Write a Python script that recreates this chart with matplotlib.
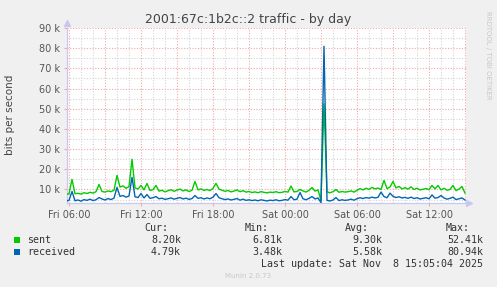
import numpy as np
import matplotlib
matplotlib.use("Agg")
import matplotlib.pyplot as plt
from matplotlib.patches import Rectangle

# data (kbit/s, one sample every 15 min)
title = "2001:67c:1b2c::2 traffic - by day"
start_hour = 5.75      # Fri 05:45, hours since Fri 00:00
step_hour = 0.25
sent = [7.6, 7.8, 15.0, 7.9, 8.1, 7.7, 8.4, 8.0, 8.6, 8.2, 8.9, 12.5, 9.0, 8.7, 9.3, 8.9, 9.6,
        17.0, 11.2, 11.8, 10.6, 11.4, 25.0, 10.8, 10.2, 12.0, 9.8, 13.0, 9.5, 9.9, 12.0, 9.2, 9.6, 8.8,
        9.4, 9.9, 9.1, 9.7, 10.2, 9.3, 9.8, 9.0, 9.6, 14.0, 9.8, 10.3, 9.5, 10.0, 9.4, 10.6, 13.0,
        10.2, 9.6, 9.1, 9.5, 8.8, 9.2, 9.8, 8.9, 9.4, 8.7, 9.0, 8.5, 8.8, 8.4, 8.9, 8.6, 8.3,
        8.7, 8.5, 8.9, 8.4, 8.6, 9.0, 8.7, 11.7, 8.8, 9.0, 10.0, 9.3, 8.7, 9.6, 11.0, 9.2, 9.8,
        4.5, 52.41, 8.8, 8.4, 8.9, 10.0, 8.6, 9.0, 8.7, 8.9, 9.3, 8.7, 9.6, 10.4, 9.8, 10.6, 10.1,
        11.0, 10.3, 10.7, 10.0, 14.5, 10.4, 11.2, 14.0, 10.8, 11.5, 10.3, 10.9, 10.2, 11.3, 10.0, 10.6, 9.8,
        10.1, 10.5, 9.9, 12.0, 10.3, 12.0, 9.8, 10.6, 9.6, 10.0, 12.0, 9.4, 10.2, 11.5, 8.2]
received = [4.3, 4.6, 9.0, 4.4, 4.8, 4.2, 5.0, 4.6, 5.2, 4.5, 4.9, 6.0, 5.3, 4.8, 5.5, 5.0, 5.7,
            11.0, 6.6, 7.0, 6.2, 6.8, 16.0, 6.4, 6.0, 8.0, 5.8, 7.5, 5.6, 5.9, 6.5, 5.4, 5.7, 5.1,
            5.4, 5.8, 5.2, 5.6, 6.0, 5.3, 5.7, 5.1, 5.5, 7.0, 5.6, 5.9, 5.3, 5.8, 5.4, 6.2, 8.0,
            5.9, 5.4, 5.0, 5.3, 4.8, 5.1, 5.5, 4.7, 5.2, 4.6, 4.9, 4.5, 4.8, 4.4, 4.9, 4.6, 4.3,
            4.7, 4.5, 4.9, 4.4, 4.6, 5.0, 4.7, 6.5, 4.9, 5.2, 8.5, 5.4, 4.9, 5.6, 6.5, 5.3, 5.8,
            3.5, 80.94, 4.6, 4.3, 4.8, 6.0, 4.5, 4.9, 4.6, 4.8, 5.2, 4.7, 5.4, 5.9, 5.5, 6.0, 5.7,
            6.2, 5.8, 6.1, 8.7, 6.5, 5.9, 8.2, 6.6, 6.0, 6.4, 5.8, 6.1, 5.6, 6.2, 5.5, 5.9, 5.3,
            5.6, 5.9, 5.4, 7.3, 5.7, 6.0, 7.0, 5.8, 5.2, 5.6, 6.2, 5.0, 5.4, 5.8, 4.79]

tick_hours = [6, 12, 18, 24, 30, 36]
tick_labels = ["Fri 06:00", "Fri 12:00", "Fri 18:00", "Sat 00:00", "Sat 06:00", "Sat 12:00"]
ytick_vals = [10000, 20000, 30000, 40000, 50000, 60000, 70000, 80000, 90000]
ytick_labels = ["10 k", "20 k", "30 k", "40 k", "50 k", "60 k", "70 k", "80 k", "90 k"]

legend_names = ["sent", "received"]
legend_colors = ["#00cc00", "#0066b3"]
cur_vals = ["8.20k", "4.79k"]
min_vals = ["6.81k", "3.48k"]
avg_vals = ["9.30k", "5.58k"]
max_vals = ["52.41k", "80.94k"]
last_update = "Last update: Sat Nov  8 15:05:04 2025"

W, H = 497, 287
def px(x, y):
    return x / W, 1 - y / H

fig = plt.figure(figsize=(W / 100, H / 100), dpi=100, facecolor="#f0f0f0")
ax = fig.add_axes([67 / W, 1 - 203 / H, 399 / W, 175 / H])
ax.set_facecolor("white")

x0, x1 = 5.833, 39.083
y0, y1 = 3300, 90000

# grid
for h in np.arange(6, 40, 1):
    col = "#f0a8a8" if h % 3 == 0 else "#d4d4d4"
    ax.axvline(h, color=col, lw=0.8, ls=(0, (1, 1.5)), zorder=1)
for v in np.arange(5000, 90001, 5000):
    col = "#f0a8a8" if v % 10000 == 0 else "#d4d4d4"
    ax.axhline(v, color=col, lw=0.8, ls=(0, (1, 1.5)), zorder=1)

t = start_hour + step_hour * np.arange(len(sent))
ax.plot(t, np.array(sent) * 1000, color=legend_colors[0], lw=1.0, zorder=3)
ax.plot(t, np.array(received) * 1000, color=legend_colors[1], lw=1.0, zorder=4)

ax.set_xlim(x0, x1)
ax.set_ylim(y0, y1)
ax.set_xticks(tick_hours, tick_labels)
ax.set_yticks(ytick_vals, ytick_labels)
ax.tick_params(axis="both", length=2, width=0.8, color="#f0a8a8", labelsize=7,
               labelcolor="#555555", pad=3)

for s in ["top", "right"]:
    ax.spines[s].set_visible(False)
for s in ["left", "bottom"]:
    ax.spines[s].set_color("#c8c8f0")
    ax.spines[s].set_linewidth(0.9)

# axis arrows
ax.plot([1.0075], [0], marker=">", ms=4, color="#c8c8f0", transform=ax.transAxes, clip_on=False)
ax.plot([0], [1.03], marker="^", ms=4, color="#c8c8f0", transform=ax.transAxes, clip_on=False)

fig.text(*px(248, 20), title, ha="center", va="center", fontsize=9, color="#444444")
fig.text(*px(10, 115), "bits per second", ha="center", va="center", rotation=90,
         fontsize=7.5, color="#444444")
fig.text(*px(488, 55), "RRDTOOL / TOBI OETIKER", ha="center", va="center", rotation=270,
         fontsize=5, color="#c8c8c8")

mono = "DejaVu Sans Mono"
lsize = 7.2
lcol = "#333333"
cols_x = [181, 282, 382, 483]
for x, head in zip(cols_x, ["Cur:", "Min:", "Avg:", "Max:"]):
    fig.text(*px(x - 13, 228), head, ha="right", va="center", family=mono, fontsize=lsize, color=lcol)

rows_y = [240, 252]
for i, name in enumerate(legend_names):
    y = rows_y[i]
    fig.patches.append(Rectangle(px(14, y + 3), 6 / W, 6 / H, transform=fig.transFigure,
                                 facecolor=legend_colors[i], edgecolor="none"))
    fig.text(*px(27, y), name, ha="left", va="center", family=mono, fontsize=lsize, color=lcol)
    for x, vals in zip(cols_x, [cur_vals, min_vals, avg_vals, max_vals]):
        fig.text(*px(x, y), vals[i], ha="right", va="center", family=mono, fontsize=lsize, color=lcol)

fig.text(*px(483, 264), last_update, ha="right", va="center", family=mono, fontsize=lsize, color=lcol)
fig.text(*px(248, 276), "Munin 2.0.73", ha="center", va="center", fontsize=5, color="#c8c8c8")

fig.savefig("out.png", dpi=100, facecolor=fig.get_facecolor())
